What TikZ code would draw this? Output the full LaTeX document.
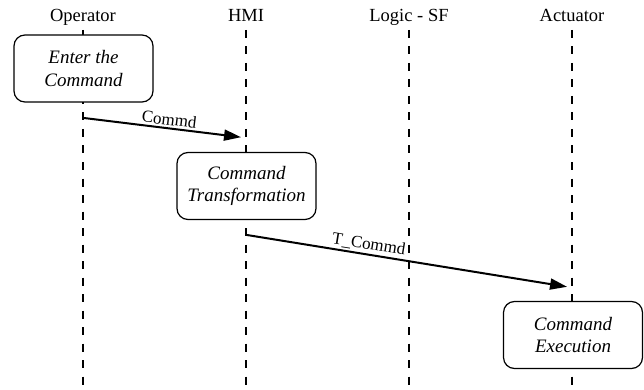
\documentclass[tikz,border=0pt]{standalone}
\usepackage{fontspec}
\setmainfont{Liberation Serif}
\usetikzlibrary{arrows.meta}
\begin{document}
\begin{tikzpicture}[x=1pt,y=-1pt,
  header/.style={anchor=base,font=\fontsize{18.5}{22}\selectfont},
  lifeline/.style={line width=1.2pt,dash pattern=on 8pt off 8.5pt},
  actbox/.style={draw,fill=white,line width=1.2pt,rounded corners=11pt,minimum width=139pt,minimum height=67pt,align=center,inner sep=0pt,font=\fontsize{19}{22.5}\selectfont\itshape},
  msg/.style={line width=2pt,-{Triangle[length=17pt,width=11pt]},shorten >=5pt},
  msglabel/.style={sloped,above,inner sep=2pt,font=\fontsize{17}{20}\selectfont}]
\useasboundingbox (0,0) rectangle (644,390);
% headers
\node[header] (hop) at (83,22) {Operator};
\node[header] (hhmi) at (246,22) {HMI};
\node[header] (hlog) at (409,22) {Logic - SF};
\node[header] (hact) at (572,22) {Actuator};
% lifelines
\coordinate (top1) at (83,30); \coordinate (bot1) at (83,390);
\coordinate (top2) at (246,30); \coordinate (bot2) at (246,390);
\coordinate (top3) at (409,30); \coordinate (bot3) at (409,390);
\coordinate (top4) at (572,30); \coordinate (bot4) at (572,390);
\draw[lifeline] (top1) -- (bot1);
\draw[lifeline] (top2) -- (bot2);
\draw[lifeline] (top3) -- (bot3);
\draw[lifeline] (top4) -- (bot4);
% activity boxes
\node[actbox] (b1) at (83.5,68.5) {Enter the\\Command};
\node[actbox] (b2) at (246.5,186) {Command\\Transformation};
\node[actbox] (b3) at (573,335) {Command\\Execution};
% messages
\coordinate (m1s) at (84,118); \coordinate (m1e) at (246,137.8);
\coordinate (m2s) at (247,235); \coordinate (m2e) at (572,287.6);
\draw[msg] (m1s) -- node[msglabel,pos=0.52] {Commd} (m1e);
\draw[msg] (m2s) -- node[msglabel,pos=0.37] {T\_Commd} (m2e);
\end{tikzpicture}
\end{document}
